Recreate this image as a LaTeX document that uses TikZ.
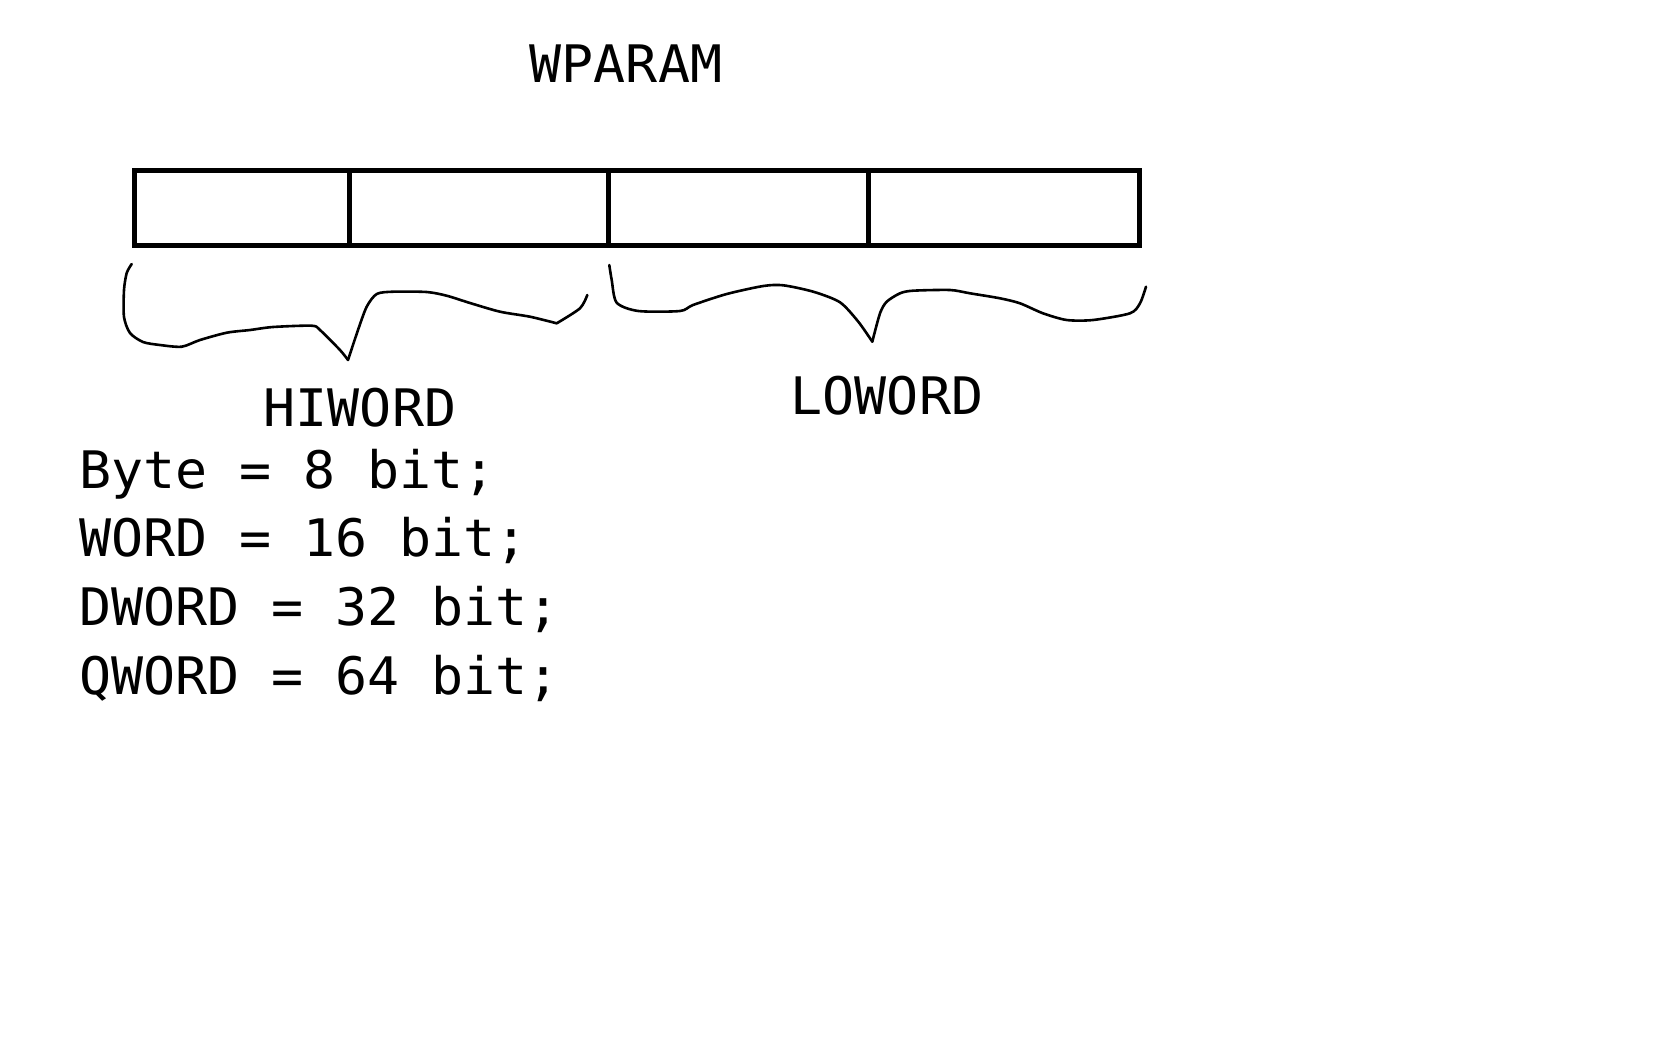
\documentclass[tikz,border=0pt]{standalone}
\usepackage{fontspec}
\newfontfamily\codefont{DejaVu Sans Mono}[FakeStretch=1.03]
\begin{document}
\begin{tikzpicture}[x=0.5pt,y=-0.5pt,
  lbl/.style={inner sep=0pt, outer sep=0pt, font=\codefont\fontsize{25.85pt}{30pt}\selectfont},
  boxline/.style={line width=2.5pt, line join=miter},
  brace/.style={line width=1.3pt, line join=round, line cap=round}]
\useasboundingbox[fill=white] (0,0) rectangle (1656,1056);
% register box
\draw[boxline] (134.5,170) rectangle (1139,245);
\draw[boxline] (349,170) -- (349,245);
\draw[boxline] (608,170) -- (608,245);
\draw[boxline] (868,170) -- (868,245);
% hand-drawn braces
\draw[brace] plot[smooth, tension=0.45] coordinates {(131.7,264) (126.7,273) (124,290) (124,317) (130,333) (143,342) (160,345) (181.7,346.7) (200,340) (226.7,332.7) (250,330) (273,327) (311.7,325.7) (320,330) (340,350) (348,360)};
\draw[brace] plot[smooth, tension=0.45] coordinates {(348,360) (358,330) (366.7,306.7) (376.7,294) (393,291.7) (426.7,292) (446.7,295.7) (470,303) (500,311.7) (530,316.7) (556.7,323.3)};
\draw[brace] plot[smooth, tension=0.45] coordinates {(556.7,323.3) (580,308.3) (587.3,295)};
\draw[brace] plot[smooth, tension=0.45] coordinates {(609.3,265) (611.7,280) (616.7,302.7) (638.3,311) (680,311) (693,305) (726.7,294) (763.3,286) (783.3,285.3) (813.3,291.7) (840,302.3) (858.3,321.7) (872.3,341.7)};
\draw[brace] plot[smooth, tension=0.45] coordinates {(872.3,341.7) (880,313.3) (886.7,301.7) (900,293.3) (913,290.7) (950,290) (970,293.3) (1000,298.3) (1020,303.3) (1043,313.3) (1066.7,320) (1093,320) (1130,313.3) (1140,303.3) (1146,286.7)};
% labels
\node[lbl, anchor=base] (wparam) at (626,82.7) {WPARAM};
\node[lbl, anchor=base] (hiword) at (360,426) {HIWORD};
\node[lbl, anchor=base] (loword) at (887,414) {LOWORD};
\node[lbl, anchor=base west] (lbyte) at (79,488.3) {Byte = 8 bit;};
\node[lbl, anchor=base west] (lword) at (79,556.7) {WORD = 16 bit;};
\node[lbl, anchor=base west] (ldword) at (79,625) {DWORD = 32 bit;};
\node[lbl, anchor=base west] (lqword) at (79,694.3) {QWORD = 64 bit;};
\end{tikzpicture}
\end{document}
